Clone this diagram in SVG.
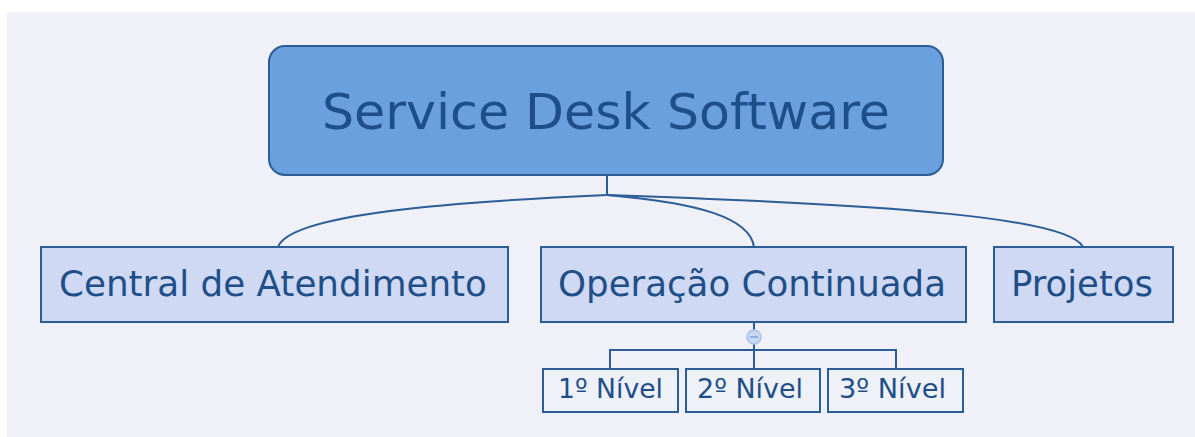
<svg xmlns="http://www.w3.org/2000/svg" width="1195" height="437" viewBox="0 0 1195 437">
  <style>
    .lbl { font-family: "DejaVu Sans", Verdana, sans-serif; fill: #1f4f88; text-anchor: start; }
    .topic { fill: #cfd9f4; stroke: #2b5d97; stroke-width: 2; }
    .sub { fill: #eff1f9; stroke: #2b5d97; stroke-width: 2; }
    .link { fill: none; stroke: #2b5d97; stroke-width: 2; }
  </style>
  <rect x="0" y="0" width="1195" height="437" fill="#ffffff"/>
  <rect x="7" y="12" width="1188" height="425" fill="#eff0f8"/>

  <g id="connectors">
    <path class="link" d="M607,175 L607,195"/>
    <path class="link" d="M607,195 C 450,202 290,214 278,247"/>
    <path class="link" d="M607,195 C 700,203 750,218 754,247"/>
    <path class="link" d="M607,195 C 900,205 1068,218 1083,247"/>
    <path class="link" d="M754,322 L754,369"/>
    <path class="link" d="M610,369 L610,350 L896,350 L896,369"/>
  </g>

  <g id="root">
    <rect x="269" y="46" width="674" height="129" rx="16" fill="#6aa0dd" stroke="#2b5d97" stroke-width="2"/>
    <text class="lbl" x="322" y="129" font-size="50" textLength="568" lengthAdjust="spacingAndGlyphs">Service Desk Software</text>
  </g>

  <g id="central">
    <rect class="topic" x="41" y="247" width="467" height="75"/>
    <text class="lbl" x="59" y="296" font-size="36" textLength="428" lengthAdjust="spacingAndGlyphs">Central de Atendimento</text>
  </g>

  <g id="operacao">
    <rect class="topic" x="541" y="247" width="425" height="75"/>
    <text class="lbl" x="558" y="296" font-size="36" textLength="388" lengthAdjust="spacingAndGlyphs">Operação Continuada</text>
  </g>

  <g id="projetos">
    <rect class="topic" x="994" y="247" width="179" height="75"/>
    <text class="lbl" x="1011" y="296" font-size="36" textLength="142" lengthAdjust="spacingAndGlyphs">Projetos</text>
  </g>

  <g id="collapse">
    <circle cx="754" cy="337" r="7" fill="#c9d8f1" stroke="#a9c1e8" stroke-width="1.5"/>
    <line x1="750" y1="337" x2="758" y2="337" stroke="#7f9fcf" stroke-width="1.5"/>
  </g>

  <g id="nivel1">
    <rect class="sub" x="543" y="369" width="135" height="43"/>
    <text class="lbl" x="558" y="398" font-size="26" textLength="105" lengthAdjust="spacingAndGlyphs">1º Nível</text>
  </g>

  <g id="nivel2">
    <rect class="sub" x="686" y="369" width="134" height="43"/>
    <text class="lbl" x="697" y="398" font-size="26" textLength="106" lengthAdjust="spacingAndGlyphs">2º Nível</text>
  </g>

  <g id="nivel3">
    <rect class="sub" x="828" y="369" width="135" height="43"/>
    <text class="lbl" x="839" y="398" font-size="26" textLength="107" lengthAdjust="spacingAndGlyphs">3º Nível</text>
  </g>
</svg>
